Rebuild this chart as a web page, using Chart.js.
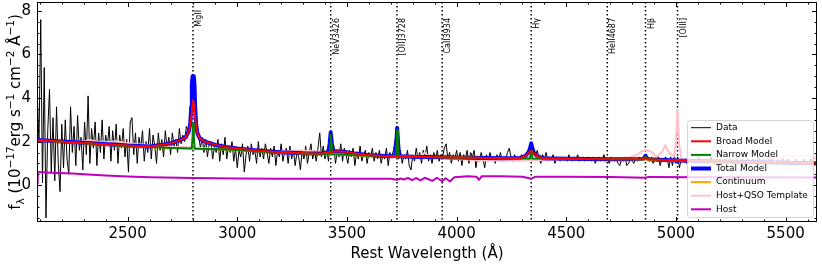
<!DOCTYPE html>
<html>
<head>
<meta charset="utf-8">
<script src="https://cdn.jsdelivr.net/npm/chart.js@4.4.1/dist/chart.umd.min.js"></script>
<style>
  html, body { margin: 0; padding: 0; background: #fff; }
  canvas { display: block; }
</style>
</head>
<body>
<canvas id="spec" width="822" height="265"></canvas>
<script>
const FONT = "'DejaVu Sans', 'Liberation Sans', sans-serif"

// observed spectrum, rest frame, sampled every 8 A from 2088 A (15 values per row = 120 A)
const dataStart = 2088
const dataStep = 8
const dataFlux = [
  4.2, 2.0, 7.6, 0.1, 5.4, -1.5, 2.5, 4.4, 0.6, 3.1, 0.2, 3.6, 1.0, -0.3, 2.8,   // 2088
  0.8, 3.0, 1.2, 0.5, 3.6, 1.5, 2.7, 0.9, 3.2, 1.6, 2.2, 0.7, 2.9, 1.4, 4.1,    // 2208
  1.0, 2.6, 1.7, 2.9, 0.9, 2.4, 1.5, 3.0, 1.2, 2.3, 1.8, 2.7, 1.1, 2.5, 1.6,    // 2328
  2.8, 1.0, 2.3, 1.7, 2.6, 1.3, 2.1, 0.6, 2.9, 3.1, 1.4, 2.4, 1.0, 2.2, 1.7,    // 2448
  2.5, 1.1, 2.0, 1.5, 2.6, 1.2, 2.3, 1.8, 1.0, 2.4, 1.6, 2.1, 1.3, 2.5, 1.7,    // 2568
  2.2, 1.4, 2.4, 1.8, 2.1, 1.5, 2.6, 1.9, 2.3, 2.0, 2.7, 2.5, 3.0, 3.9, 4.8,    // 2688
  3.6, 2.6, 2.3, 1.7, 2.2, 1.5, 2.1, 1.3, 1.9, 2.0, 1.2, 1.8, 1.5, 2.1, 1.1,    // 2808
  1.9, 1.4, 2.2, 1.2, 1.8, 1.5, 2.0, 1.1, 1.7, 0.8, 1.6, 1.3, 1.9, 0.6, 1.4,    // 2928
  1.8, 1.1, 1.9, 1.4, 1.6, 1.0, 2.0, 1.3, 1.7, 1.2, 1.9, 1.5, 1.0, 1.7, 1.3,    // 3048
  1.8, 0.9, 1.6, 1.3, 1.9, 1.1, 1.5, 1.7, 1.0, 1.8, 1.2, 1.6, 0.9, 1.5, 1.3,    // 3168
  0.7, 1.6, 1.2, 1.8, 1.0, 1.5, 1.9, 1.2, 1.6, 1.1, 1.7, 2.4, 1.3, 1.8, 1.2,    // 3288
  1.6, 1.1, 2.2, 1.4, 1.8, 1.0, 1.6, 1.3, 1.9, 1.1, 1.7, 1.4, 1.0, 1.6, 1.3,    // 3408
  1.7, 0.9, 1.5, 1.2, 1.8, 1.1, 1.4, 1.6, 1.0, 1.5, 1.3, 1.7, 1.1, 1.5, 1.2,    // 3528
  1.6, 1.0, 1.4, 1.2, 1.7, 0.9, 1.5, 1.3, 1.6, 2.1, 1.4, 1.2, 1.6, 1.0, 1.4,    // 3648
  1.2, 1.6, 0.9, 0.7, 1.4, 1.1, 1.7, 1.2, 1.5, 1.0, 1.6, 1.3, 1.8, 1.1, 1.4,    // 3768
  1.0, 1.5, 1.2, 1.6, 1.1, 1.4, 1.3, 1.7, 1.9, 1.2, 1.5, 1.0, 1.4, 1.2, 1.6,    // 3888
  1.1, 1.5, 0.9, 1.4, 1.2, 1.6, 1.0, 1.5, 1.3, 1.6, 0.8, 1.3, 1.1, 1.5, 1.2,    // 4008
  0.8, 1.4, 1.1, 1.5, 1.2, 1.3, 1.0, 1.4, 1.2, 1.5, 1.1, 1.3, 1.2, 1.5, 1.7,    // 4128
  1.3, 1.1, 1.4, 1.2, 1.3, 1.1, 1.4, 1.2, 1.3, 1.5, 1.4, 1.6, 1.9, 1.7, 1.4,    // 4248
  1.6, 1.2, 1.0, 1.4, 1.2, 1.5, 1.1, 1.3, 1.2, 1.4, 1.0, 1.3, 1.2, 1.1, 1.3,    // 4368
  1.2, 1.3, 1.1, 1.4, 1.2, 1.1, 1.3, 1.2, 1.4, 1.1, 1.2, 1.3, 1.1, 1.2, 1.3,    // 4488
  1.2, 1.1, 1.3, 1.0, 1.2, 1.3, 1.1, 1.2, 1.4, 1.1, 1.2, 1.0, 1.3, 1.2, 1.1,    // 4608
  1.2, 1.0, 0.9, 1.2, 1.1, 1.3, 0.9, 1.0, 1.2, 1.1, 1.0, 1.2, 1.1, 1.3, 1.2,    // 4728
  1.2, 1.3, 1.4, 1.2, 1.1, 1.3, 1.0, 1.2, 1.1, 1.3, 0.9, 1.2, 1.1, 1.3, 1.2,    // 4848
  0.8, 1.3, 0.9, 1.4, 1.0, 1.3, 0.8, 1.2, 1.1, 1.2, 1.0, 1.2, 1.1, 1.2, 1.1,    // 4968
  1.2, 1.1, 1.3, 1.0, 1.2, 1.1, 1.2, 1.0, 1.1, 1.3, 1.1, 1.0, 1.2, 1.1, 1.2,    // 5088
  1.0, 1.1, 1.2, 1.0, 1.1, 1.2, 1.1, 1.0, 1.2, 1.1, 1.0, 1.1, 1.2, 1.0, 1.1,    // 5208
  1.2, 1.0, 1.1, 1.2, 1.0, 1.1, 1.3, 1.1, 1.0, 1.2, 1.1, 1.0, 1.2, 1.1, 1.2,    // 5328
  1.0, 1.1, 1.2, 1.0, 1.1, 1.3, 1.0, 1.1, 1.2, 1.0, 1.1, 1.0, 1.2, 1.1, 1.0,    // 5448
  1.1, 1.0, 1.2, 0.9, 1.1, 1.0, 1.2, 1.0, 1.1, 1.0                              // 5568
]

// model curves as [wavelength, flux] pairs
const continuum = [[2087,2.06],[2300,1.93],[2500,1.8],[2600,1.75],[2700,1.71],[2800,1.68],[2900,1.66],
  [3000,1.62],[3100,1.55],[3200,1.5],[3300,1.46],[3400,1.42],[3600,1.35],[3800,1.3],[4000,1.27],[4200,1.24],
  [4400,1.21],[4600,1.2],[4800,1.19],[5000,1.13],[5200,1.09],[5400,1.05],[5643,1.0]]

const broadModel = [[2087,2.07],[2300,1.94],[2500,1.82],[2600,1.78],[2650,1.84],[2700,1.93],[2740,2.07],
  [2765,2.2],[2780,2.48],[2788,2.9],[2794,3.5],[2799,3.9],[2804,3.55],[2810,2.95],[2818,2.4],[2830,2.12],
  [2860,1.97],[2900,1.85],[2950,1.75],[3000,1.68],[3100,1.58],[3200,1.51],[3300,1.47],[3380,1.46],
  [3420,1.52],[3450,1.56],[3490,1.53],[3540,1.45],[3600,1.38],[3700,1.33],[3800,1.3],[4000,1.27],
  [4200,1.24],[4290,1.25],[4315,1.35],[4330,1.5],[4340,1.58],[4350,1.5],[4365,1.35],[4390,1.24],
  [4500,1.21],[4700,1.19],[4850,1.2],[4861,1.22],[4875,1.19],[5000,1.13],[5200,1.09],[5400,1.05],[5643,1.0]]

const narrowModel = [[2087,2.06],[2300,1.93],[2500,1.8],[2600,1.75],[2700,1.71],[2792,1.68],[2796,2.2],
  [2799,2.85],[2802,2.2],[2806,1.67],[2900,1.66],[3000,1.62],[3100,1.55],[3200,1.5],[3300,1.46],
  [3421,1.42],[3424,1.9],[3426,2.3],[3428,1.9],[3431,1.42],[3600,1.35],[3723,1.31],[3726,1.9],[3729,2.55],
  [3732,1.9],[3735,1.31],[3800,1.3],[4000,1.27],[4200,1.24],[4334,1.22],[4337,1.42],[4340,1.58],
  [4343,1.42],[4346,1.22],[4600,1.2],[4850,1.19],[4856,1.26],[4861,1.33],[4866,1.26],[4872,1.19],
  [5000,1.13],[5200,1.09],[5400,1.05],[5643,1.0]]

const totalModel = [[2087,2.07],[2300,1.95],[2500,1.82],[2600,1.78],[2650,1.84],[2700,1.93],[2740,2.07],
  [2765,2.2],[2780,2.5],[2786,2.85],[2790,3.6],[2793,4.6],[2796,5.0],[2802,5.0],[2805,4.6],[2808,3.6],
  [2812,2.85],[2818,2.4],[2830,2.12],[2860,1.97],[2900,1.85],[2950,1.75],[3000,1.68],[3100,1.58],[3200,1.51],
  [3300,1.47],[3380,1.46],[3415,1.51],[3421,1.9],[3426,2.42],[3431,1.95],[3437,1.56],[3450,1.56],
  [3490,1.53],[3540,1.45],[3600,1.38],[3700,1.33],[3720,1.34],[3725,1.9],[3729,2.62],[3733,1.95],
  [3738,1.33],[3800,1.3],[4000,1.27],[4200,1.24],[4290,1.25],[4315,1.35],[4330,1.55],[4336,1.75],
  [4340,1.92],[4344,1.75],[4350,1.52],[4365,1.35],[4390,1.24],[4500,1.21],[4700,1.19],[4850,1.2],
  [4856,1.26],[4861,1.35],[4866,1.26],[4875,1.19],[5000,1.13],[5200,1.09],[5400,1.05],[5643,1.0]]

const hostQsoTemplate = [[2087,2.07],[2150,2.03],[2250,1.97],[2300,2.02],[2330,2.07],[2360,2.0],[2420,1.98],
  [2450,2.02],[2480,1.96],[2550,1.88],[2600,1.84],[2650,1.8],[2700,1.77],[2760,1.75],[2800,1.72],
  [2850,1.7],[2900,1.68],[3000,1.64],[3100,1.58],[3200,1.55],[3280,1.6],[3330,1.57],[3400,1.5],
  [3500,1.44],[3600,1.38],[3700,1.34],[3800,1.3],[3840,1.36],[3855,1.5],[3870,1.32],[3950,1.25],
  [4000,1.2],[4100,1.14],[4200,1.12],[4300,1.13],[4400,1.16],[4500,1.18],[4600,1.2],[4700,1.22],
  [4780,1.25],[4820,1.38],[4845,1.55],[4865,1.62],[4885,1.55],[4910,1.32],[4935,1.5],[4952,1.84],
  [4965,1.55],[4990,1.3],[5000,1.9],[5007,3.45],[5014,1.9],[5025,1.2],[5100,1.1],[5200,1.08],
  [5270,1.15],[5300,1.1],[5400,1.12],[5440,1.32],[5470,1.2],[5520,1.38],[5560,1.3],[5600,1.38],[5643,1.2]]

const hostGalaxy = [[2087,0.1],[2090,0.6],[2150,0.57],[2250,0.54],[2300,0.5],[2400,0.44],[2500,0.4],
  [2600,0.37],[2800,0.33],[3000,0.31],[3200,0.3],[3400,0.3],[3600,0.3],[3700,0.3],[3728,0.25],
  [3745,0.31],[3760,0.26],[3778,0.33],[3798,0.23],[3815,0.33],[3835,0.22],[3855,0.34],[3889,0.2],
  [3910,0.34],[3934,0.18],[3950,0.32],[3970,0.17],[3990,0.37],[4050,0.41],[4090,0.39],[4102,0.25],
  [4115,0.41],[4200,0.41],[4300,0.39],[4340,0.3],[4360,0.39],[4500,0.39],[4700,0.38],[4861,0.34],
  [4875,0.38],[5100,0.37],[5300,0.36],[5643,0.35]]

// emission line markers
const lineNames = ['MgII', 'NeV3426', '[OII]3728', 'CaII3934', 'Hγ', 'HeII4687', 'Hβ', '[OIII]']
const lineWaves = [2798, 3426, 3728, 3934, 4340, 4687, 4861, 5007]
const lineLabelTop = [8, 16, 16, 16, 16, 16, 16, 16]

const xTicks = [2500, 3000, 3500, 4000, 4500, 5000, 5500]
const yTicks = [0, 2, 4, 6, 8]

const toXY = arr => arr.map(p => ({ x: p[0], y: p[1] }))
const dataPoints = dataFlux.map((f, i) => ({ x: dataStart + i * dataStep, y: f }))

const series = [
  { label: 'Data', data: dataPoints, borderColor: '#000000', borderWidth: 1, order: 7 },
  { label: 'Broad Model', data: toXY(broadModel), borderColor: '#ff0000', borderWidth: 2, order: 1 },
  { label: 'Narrow Model', data: toXY(narrowModel), borderColor: '#008000', borderWidth: 2, order: 2 },
  { label: 'Total Model', data: toXY(totalModel), borderColor: '#0000ff', borderWidth: 4, order: 4 },
  { label: 'Continuum', data: toXY(continuum), borderColor: '#ffa500', borderWidth: 2, order: 3 },
  { label: 'Host+QSO Template', data: toXY(hostQsoTemplate), borderColor: '#ffc0cb', borderWidth: 2, order: 5 },
  { label: 'Host', data: toXY(hostGalaxy), borderColor: '#bf00bf', borderWidth: 2, order: 6 }
]
series.forEach(s => { s.pointRadius = 0; s.tension = 0; s.fill = false; s.borderJoinStyle = 'round' })

function drawYTitle(ctx, baseX, cy) {
  const big = 15, small = 10.5
  const parts = [
    ['f', big, 0], ['λ', small, 3.5], [' (10', big, 0], ['−17', small, -6], ['erg s', big, 0],
    ['−1', small, -6], [' cm', big, 0], ['−2', small, -6], [' Å', big, 0], ['−1', small, -6], [')', big, 0]
  ]
  let total = 0
  parts.forEach(p => { ctx.font = p[1] + 'px ' + FONT; total += ctx.measureText(p[0]).width })
  ctx.save()
  ctx.translate(baseX, cy)
  ctx.rotate(-Math.PI / 2)
  ctx.fillStyle = '#000'
  ctx.textAlign = 'left'
  ctx.textBaseline = 'alphabetic'
  let pos = -total / 2
  parts.forEach(p => {
    ctx.font = p[1] + 'px ' + FONT
    ctx.fillText(p[0], pos, p[2])
    pos += ctx.measureText(p[0]).width
  })
  ctx.restore()
}

// no extra room for half tick labels, the frame is fixed
const noPad = s => { s.paddingTop = 0; s.paddingBottom = 0; s.paddingLeft = 0; s.paddingRight = 0 }

const specPlugin = {
  id: 'specPlugin',
  beforeDatasetsDraw(chart) {
    const { ctx, chartArea: a, scales: { x } } = chart
    ctx.save()
    ctx.strokeStyle = '#000'
    ctx.lineWidth = 1.5
    ctx.setLineDash([1.5, 2.5])
    lineWaves.forEach(w => {
      const px = x.getPixelForValue(w)
      ctx.beginPath()
      ctx.moveTo(px, a.top)
      ctx.lineTo(px, a.bottom)
      ctx.stroke()
    })
    ctx.restore()
  },
  afterDatasetsDraw(chart) {
    const { ctx, chartArea: a, scales: { x, y } } = chart
    ctx.save()
    // line names, rotated
    ctx.fillStyle = '#000'
    ctx.font = '8px ' + FONT
    lineWaves.forEach((w, i) => {
      const px = x.getPixelForValue(w)
      ctx.save()
      ctx.translate(px + 2, a.top + lineLabelTop[i])
      ctx.rotate(-Math.PI / 2)
      ctx.textAlign = 'right'
      ctx.textBaseline = 'top'
      ctx.fillText(lineNames[i], 0, 0)
      ctx.restore()
    })
    // inward ticks on all four sides
    ctx.strokeStyle = '#000'
    ctx.lineWidth = 1
    ctx.beginPath()
    for (let w = 2100; w <= 5600; w += 100) {
      const px = Math.round(x.getPixelForValue(w)) + 0.5
      const len = w % 500 === 0 ? 5 : 2.5
      ctx.moveTo(px, a.bottom); ctx.lineTo(px, a.bottom - len)
      ctx.moveTo(px, a.top); ctx.lineTo(px, a.top + len)
    }
    for (let v = -1.5; v <= 8.01; v += 0.5) {
      const py = Math.round(y.getPixelForValue(v)) + 0.5
      const len = Math.abs(v % 2) < 0.01 ? 5 : 2.5
      ctx.moveTo(a.left, py); ctx.lineTo(a.left + len, py)
      ctx.moveTo(a.right, py); ctx.lineTo(a.right - len, py)
    }
    ctx.stroke()
    ctx.strokeRect(a.left + 0.5, a.top + 0.5, a.right - a.left - 1, a.bottom - a.top - 1)
    ctx.restore()
  },
  afterDraw(chart) {
    const { ctx, chartArea: a } = chart
    ctx.save()
    // legend box, lower right inside the axes
    const w = 126, h = 97
    const bx = a.right - 4 - w, by = a.bottom - 5 - h
    ctx.beginPath()
    ctx.roundRect(bx + 0.5, by + 0.5, w, h, 3)
    ctx.fillStyle = 'rgba(255,255,255,0.8)'
    ctx.fill()
    ctx.strokeStyle = 'rgba(204,204,204,0.8)'
    ctx.lineWidth = 1
    ctx.stroke()
    ctx.font = '9px ' + FONT
    ctx.textBaseline = 'middle'
    ctx.textAlign = 'left'
    series.forEach((s, i) => {
      const ry = by + 7.7 + i * 13.6
      ctx.beginPath()
      ctx.moveTo(bx + 4, ry)
      ctx.lineTo(bx + 24, ry)
      ctx.strokeStyle = s.borderColor
      ctx.lineWidth = s.borderWidth
      ctx.stroke()
      ctx.fillStyle = '#000'
      ctx.fillText(s.label, bx + 29, ry)
    })
    // axis titles
    ctx.font = '15px ' + FONT
    ctx.textAlign = 'center'
    ctx.textBaseline = 'middle'
    ctx.fillText('Rest Wavelength (Å)', (a.left + a.right) / 2, 254)
    drawYTitle(ctx, 20, (a.top + a.bottom) / 2)
    ctx.restore()
  }
}

new Chart(document.getElementById('spec'), {
  type: 'line',
  data: { datasets: series },
  options: {
    responsive: false,
    animation: false,
    devicePixelRatio: 1,
    layout: { autoPadding: false, padding: { top: 2, right: 5, left: 0, bottom: 0 } },
    plugins: { legend: { display: false }, tooltip: { enabled: false } },
    scales: {
      x: {
        type: 'linear', min: 2087, max: 5643,
        grid: { display: false, drawTicks: false },
        border: { display: false },
        afterBuildTicks: s => { s.ticks = xTicks.map(v => ({ value: v })) },
        afterFit: s => { s.height = 43; noPad(s) },
        ticks: { font: { family: FONT, size: 15 }, color: '#000', padding: 3, maxRotation: 0, autoSkip: false,
                 callback: v => String(v) }
      },
      y: {
        type: 'linear', min: -1.69, max: 8.41,
        grid: { display: false, drawTicks: false },
        border: { display: false },
        afterBuildTicks: s => { s.ticks = yTicks.map(v => ({ value: v })) },
        afterFit: s => { s.width = 37; noPad(s) },
        ticks: { font: { family: FONT, size: 15 }, color: '#000', padding: 6, autoSkip: false,
                 callback: v => String(v) }
      }
    }
  },
  plugins: [specPlugin]
})
</script>
</body>
</html>
